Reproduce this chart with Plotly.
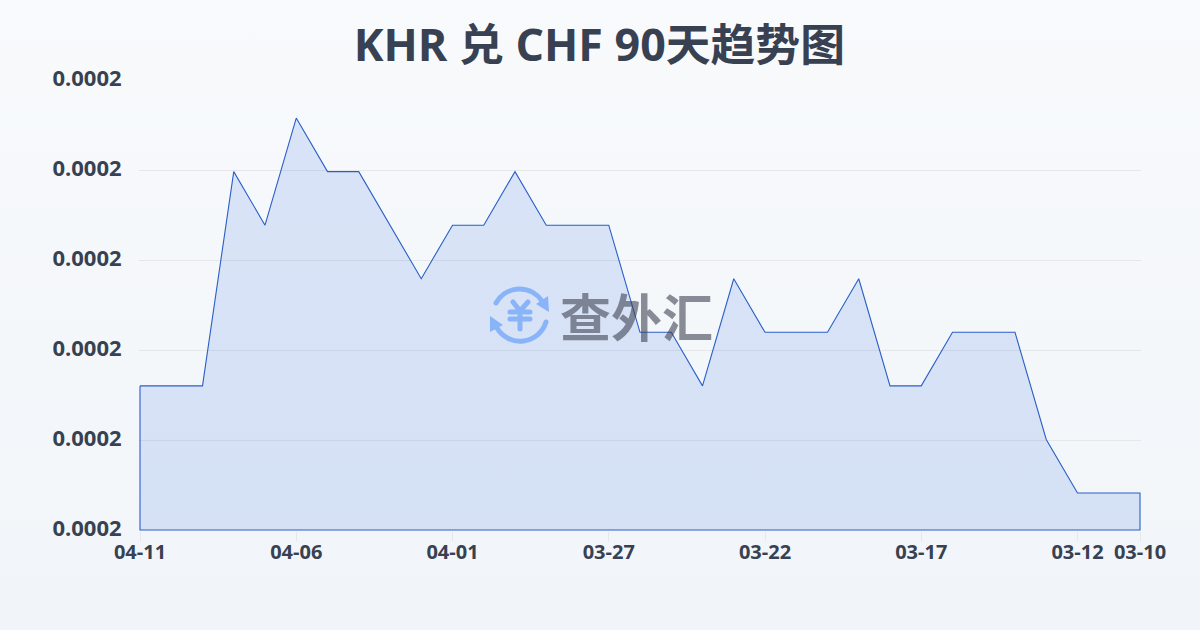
import base64
import plotly.graph_objects as go

TITLE = "KHR 兑 CHF 90天趋势图"
WATERMARK = "查外汇"
dates = ["04-11","04-10","04-09","04-08","04-07","04-06","04-05","04-04","04-03","04-02","04-01",
         "03-31","03-30","03-29","03-28","03-27","03-26","03-25","03-24","03-23","03-22","03-21",
         "03-20","03-19","03-18","03-17","03-16","03-15","03-14","03-13","03-12","03-11","03-10"]
rates = [0.000209,0.000209,0.000209,0.000213,0.000212,0.000214,0.000213,0.000213,0.000212,0.000211,
         0.000212,0.000212,0.000213,0.000212,0.000212,0.000212,0.000210,0.000210,0.000209,0.000211,
         0.000210,0.000210,0.000210,0.000211,0.000209,0.000209,0.000210,0.000210,0.000210,0.000208,
         0.000207,0.000207,0.000207]
x_tick_labels = ["04-11","04-06","04-01","03-27","03-22","03-17","03-12","03-10"]
y_ticks = [0.00020631,0.00020799,0.00020967,0.00021135,0.00021303,0.00021471]

idx = list(range(len(dates)))
base = y_ticks[0]
closed_x = idx + [idx[-1], idx[0], idx[0]]
closed_y = rates + [base, base, rates[0]]

# The plot area is 1px larger than the data box on every side so the edge strokes are not clipped.
PAD = 1
L, T, W, H = 140 - PAD, 80 - PAD, 1000 + 2 * PAD, 450 + 2 * PAD
x_pad = (len(dates) - 1) / 1000 * PAD
y_pad = (y_ticks[-1] - y_ticks[0]) / 450 * PAD

def px(x):
    return (x - L) / W

def py(y):
    return (T + H - y) / H

bg_svg = ('<svg xmlns="http://www.w3.org/2000/svg" width="1200" height="630">'
          '<defs><linearGradient id="g" x1="0" y1="0" x2="0" y2="1">'
          '<stop offset="0" stop-color="#f8fafc"/><stop offset="1" stop-color="#f1f5f9"/>'
          '</linearGradient></defs><rect width="1200" height="630" fill="url(#g)"/></svg>')
logo_svg = ('<svg xmlns="http://www.w3.org/2000/svg" width="70" height="70" viewBox="0 0 70 70">'
            '<g fill="none" stroke="#8ab4f8" stroke-width="5" stroke-linecap="round" stroke-linejoin="round">'
            '<path d="M11 23 A27 27 0 0 1 57 21"/>'
            '<path d="M61 42 A27 27 0 0 1 12 48"/>'
            '<path d="M28 22 L35 31 L43 22 M25 32 H45 M25 39 H45 M35 31 V49"/>'
            '</g><g fill="#8ab4f8"><path d="M51 24 L63 16 L64 32 Z"/><path d="M5 36 L5 52 L18 45 Z"/></g></svg>')

def uri(svg):
    return "data:image/svg+xml;base64," + base64.b64encode(svg.encode()).decode()

fig = go.Figure()
fig.add_trace(go.Scatter(x=closed_x, y=closed_y, mode="lines", fill="toself",
                         fillcolor="rgba(45,100,225,0.14)",
                         line=dict(color="#2a5fc8", width=1.1), hoverinfo="skip",
                         cliponaxis=False, showlegend=False))
font = "Open Sans, Noto Sans CJK SC, sans-serif"
fig.update_layout(
    width=1200, height=630, autosize=False,
    margin=dict(l=L, r=1200 - L - W, t=T, b=630 - T - H),
    paper_bgcolor="#f5f7fa", plot_bgcolor="rgba(0,0,0,0)",
    font=dict(family=font, color="#374151"),
    title=dict(text=f"<b>{TITLE}</b>", x=0.4995, xanchor="center", y=0.928, yanchor="middle",
               font=dict(size=44.8, color="#374151", family=font)),
    xaxis=dict(range=[-x_pad, len(dates) - 1 + x_pad], tickmode="array",
               tickvals=[dates.index(d) for d in x_tick_labels], ticktext=x_tick_labels,
               ticks="outside", ticklen=9, tickcolor="#e5e7eb", tickwidth=1,
               ticklabelstandoff=-6,
               showgrid=False, zeroline=False, showline=False,
               tickfont=dict(size=20, color="#374151", family=font, weight="bold")),
    yaxis=dict(range=[y_ticks[0] - y_pad, y_ticks[-1] + y_pad], tickmode="array", tickvals=y_ticks,
               tickformat=".4f", ticks="outside", ticklen=12, tickcolor="rgba(0,0,0,0)",
               ticklabelshift=-2,
               showgrid=True, gridcolor="#e5e7eb", gridwidth=1, zeroline=False, showline=False,
               tickfont=dict(size=22, color="#374151", family=font, weight="bold")),
    images=[
        dict(source=uri(bg_svg), xref="paper", yref="paper", x=px(0), y=py(0),
             sizex=1200 / W, sizey=630 / H, sizing="stretch", xanchor="left", yanchor="top", layer="below"),
        dict(source=uri(logo_svg), xref="paper", yref="paper", x=px(485), y=py(280),
             sizex=70 / W, sizey=70 / H, sizing="stretch", xanchor="left", yanchor="top",
             layer="above"),
    ],
    annotations=[dict(text=f"<b>{WATERMARK}</b>", xref="paper", yref="paper",
                      x=px(636), y=py(315), xanchor="center", yanchor="middle",
                      showarrow=False, opacity=0.58,
                      font=dict(size=51, color="#3a3f4f", family="Noto Sans CJK SC", weight=900))],
)
fig.write_html("out.html", config={"displayModeBar": False},
               post_script="document.body.style.margin='0';document.documentElement.style.overflow='hidden';")
